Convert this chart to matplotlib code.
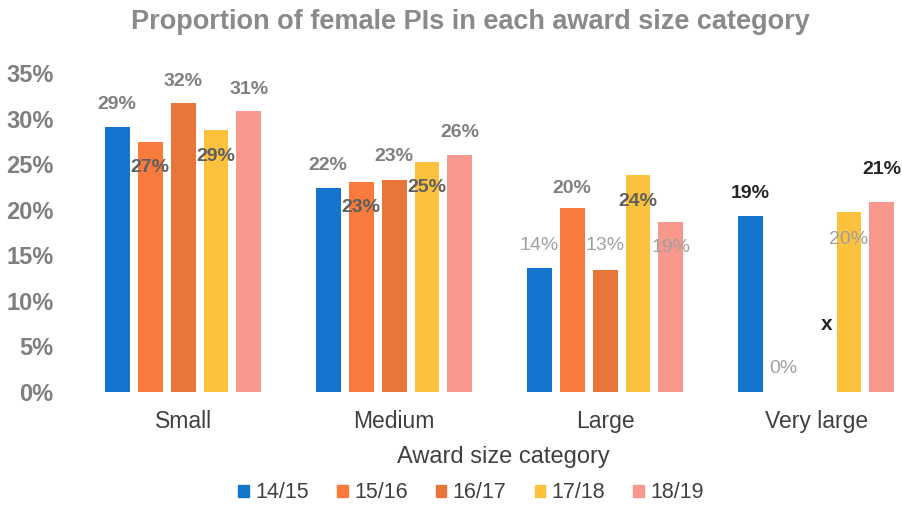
import numpy as np
import matplotlib
matplotlib.use("Agg")
import matplotlib.pyplot as plt
from matplotlib.patches import Patch

plt.rcParams["font.family"] = ["Liberation Sans", "DejaVu Sans"]

# data (in %)
categories = ["Small", "Medium", "Large", "Very large"]
years = ["14/15", "15/16", "16/17", "17/18", "18/19"]
v_1415 = [29.1, 22.4, 13.6, 19.3]
v_1516 = [27.4, 23.0, 20.2, 0.0]
v_1617 = [31.7, 23.3, 13.4, np.nan]   # no data for very large -> "x"
v_1718 = [28.7, 25.2, 23.8, 19.7]
v_1819 = [30.8, 26.0, 18.6, 20.9]
series = [v_1415, v_1516, v_1617, v_1718, v_1819]
colors = ["#1475CF", "#F87A3C", "#E8763A", "#FCC23E", "#F8978B"]

# label offsets (percentage points from bar top) and label looks
lab_off = [
    [2.4, 2.4, 2.5, 2.5],
    [-2.8, -2.8, 2.1, 2.6],
    [2.4, 2.5, 2.7, 7.4],
    [-2.9, -2.8, -2.9, -3.0],
    [2.4, 2.5, -2.7, 3.5],
]
GREY = ("#808080", "bold")
MID = ("#5f5f5f", "bold")
LIGHT = ("#a0a0a0", "normal")
DARK = ("#262626", "bold")
lab_style = [
    [GREY, GREY, LIGHT, DARK],
    [MID, MID, GREY, LIGHT],
    [GREY, GREY, LIGHT, DARK],
    [MID, MID, MID, LIGHT],
    [GREY, GREY, LIGHT, DARK],
]

fig = plt.figure(figsize=(9.03, 5.08), dpi=100)
ax = fig.add_axes([70 / 903, 116 / 508, 833 / 903, 319 / 508])

x = np.arange(len(categories))
step = 0.156
width = 0.118
for i, (vals, col) in enumerate(zip(series, colors)):
    xs = x + (i - 2) * step
    ax.bar(xs, np.nan_to_num(vals), width=width, color=col, label=years[i])
    for j, v in enumerate(vals):
        c, w = lab_style[i][j]
        if np.isnan(v):
            ax.text(xs[j] + 0.05, lab_off[i][j], "x", ha="center", va="center",
                    fontsize=15, color=c, fontweight=w)
            continue
        ax.text(xs[j], v + lab_off[i][j], f"{round(v)}%", ha="center", va="center",
                fontsize=14, color=c, fontweight=w, clip_on=False)

ax.set_xlim(-0.536, 3.412)
ax.set_ylim(0, 35)
ax.set_yticks(np.arange(0, 36, 5))
ax.set_yticklabels([f"{t}%" for t in range(0, 36, 5)])
ax.set_xticks(x)
ax.set_xticklabels(categories)
ax.tick_params(axis="y", length=0, pad=12, labelsize=17, labelcolor="#7f7f7f")
ax.tick_params(axis="x", length=0, pad=13, labelsize=16.5, labelcolor="#404040")
for t in ax.get_yticklabels():
    t.set_fontweight("bold")
for s in ax.spines.values():
    s.set_visible(False)

fig.text(470 / 903, 1 - 22 / 508, "Proportion of female PIs in each award size category",
         ha="center", va="center", fontsize=19.5, fontweight="bold", color="#8a8a8a")
fig.text(503 / 903, 1 - 457 / 508, "Award size category", ha="center", va="center",
         fontsize=17, color="#404040")

handles = [Patch(color=c) for c in colors]
fig.legend(handles, years, loc="center", bbox_to_anchor=(471 / 903, 1 - 493 / 508),
           ncol=5, frameon=False, fontsize=15.5, handlelength=0.5, handleheight=0.5,
           handletextpad=0.3, columnspacing=1.3, labelcolor="#404040")

fig.savefig("out.png", dpi=100)
